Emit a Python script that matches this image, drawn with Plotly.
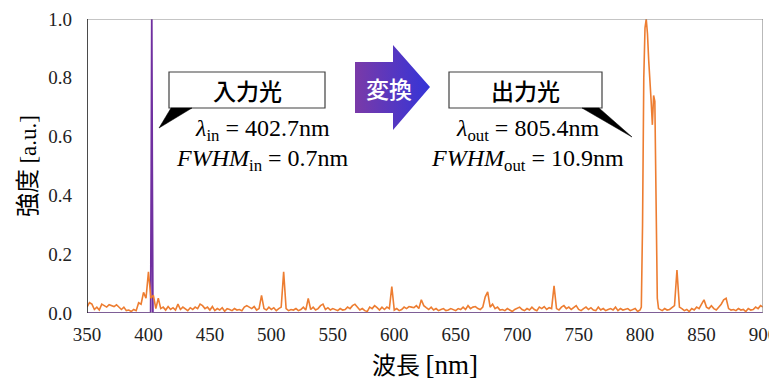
import plotly.graph_objects as go

# ---------------- data ----------------
x_ticks = [350, 400, 450, 500, 550, 600, 650, 700, 750, 800, 850, 900]
y_ticks = [0.0, 0.2, 0.4, 0.6, 0.8, 1.0]

# input light (purple): narrow line at 402.7 nm
in_wl = [350, 401.8, 402.3, 402.7, 403.1, 403.6, 900]
in_val = [0.0, 0.0, 0.5, 1.0, 0.5, 0.0, 0.0]

# output light (orange): noise floor 350-800 nm, 2 nm steps
out_wl_a = list(range(350, 801, 2))
out_val_a = [
    0.020, 0.035, 0.030, 0.012, 0.020, 0.010, 0.030, 0.025, 0.020, 0.028,
    0.025, 0.022, 0.028, 0.020, 0.012, 0.020, 0.008, 0.010, 0.005, 0.012,
    0.008, 0.035, 0.030, 0.070, 0.050, 0.140, 0.050, 0.060, 0.015, 0.050,
    0.015, 0.020, 0.010, 0.022, 0.012, 0.018, 0.010, 0.030, 0.012, 0.020,
    0.015, 0.008, 0.018, 0.012, 0.020, 0.015, 0.030, 0.025, 0.015, 0.020,
    0.010, 0.022, 0.008, 0.015, 0.010, 0.018, 0.006, 0.015, 0.012, 0.008,
    0.015, 0.010, 0.012, 0.008, 0.020, 0.025, 0.020, 0.015, 0.022, 0.010,
    0.015, 0.060, 0.015, 0.010, 0.020, 0.012, 0.018, 0.008, 0.015, 0.020,
    0.140, 0.015, 0.008, 0.012, 0.010, 0.015, 0.008, 0.012, 0.020, 0.010,
    0.050, 0.012, 0.020, 0.010, 0.015, 0.025, 0.030, 0.012, 0.018, 0.010,
    0.015, 0.012, 0.008, 0.015, 0.010, 0.012, 0.020, 0.015, 0.025, 0.030,
    0.020, 0.010, 0.015, 0.008, 0.005, 0.020, 0.015, 0.025, 0.018, 0.010,
    0.020, 0.012, 0.020, 0.015, 0.090, 0.010, 0.015, 0.008, 0.012, 0.020,
    0.015, 0.022, 0.020, 0.018, 0.025, 0.015, 0.045, 0.025, 0.018, 0.012,
    0.020, 0.010, 0.015, 0.008, 0.012, 0.015, 0.008, 0.010, 0.015, 0.012,
    0.008, 0.015, 0.012, 0.020, 0.012, 0.025, 0.015, 0.020, 0.022, 0.015,
    0.012, 0.020, 0.055, 0.072, 0.020, 0.030, 0.015, 0.020, 0.010, 0.012,
    0.008, 0.015, 0.010, 0.005, 0.012, 0.015, 0.020, 0.012, 0.008, 0.015,
    0.010, 0.020, 0.012, 0.008, 0.020, 0.015, 0.022, 0.012, 0.018, 0.015,
    0.092, 0.015, 0.010, 0.020, 0.025, 0.015, 0.020, 0.012, 0.018, 0.025,
    0.012, 0.008, 0.015, 0.020, 0.012, 0.018, 0.010, 0.008, 0.020, 0.010,
    0.015, 0.008, 0.012, 0.015, 0.010, 0.020, 0.008, 0.015, 0.010, 0.012,
    0.015, 0.008, 0.012, 0.015, 0.005, 0.010,
]
# main output peak around 805.4 nm
out_wl_peak = [801, 802, 803, 804, 805, 806, 807, 808, 809, 810, 810.5, 811, 812, 813, 814, 815, 816]
out_val_peak = [0.02, 0.30, 0.80, 0.97, 1.00, 0.95, 0.86, 0.80, 0.72, 0.64, 0.70, 0.74, 0.72, 0.40, 0.05, 0.015, 0.012]
# noise floor 818-900 nm
out_wl_b = list(range(818, 901, 2))
out_val_b = [
    0.008, 0.015, 0.010, 0.012, 0.020, 0.025, 0.146, 0.020, 0.015, 0.008,
    0.012, 0.005, 0.015, 0.010, 0.020, 0.015, 0.030, 0.045, 0.020, 0.015,
    0.025, 0.015, 0.010, 0.020, 0.030, 0.045, 0.050, 0.015, 0.010, 0.012,
    0.008, 0.015, 0.010, 0.012, 0.005, 0.015, 0.010, 0.012, 0.020, 0.015,
    0.025, 0.020,
]
out_wl = out_wl_a + out_wl_peak + out_wl_b
out_val = out_val_a + out_val_peak + out_val_b

SERIF = "Liberation Serif"
CJK = "Noto Sans CJK JP"

fig = go.Figure()
fig.add_trace(go.Scatter(x=in_wl, y=in_val, mode="lines",
                         line=dict(color="#7030A0", width=1.8), hoverinfo="skip"))
fig.add_trace(go.Scatter(x=out_wl, y=out_val, mode="lines",
                         line=dict(color="#ED7D31", width=1.6), hoverinfo="skip"))

# gradient arrow "変換" on a pixel-based overlay axis pair
arrow_x = [355, 393, 393, 430, 393, 393, 355, 355]
arrow_y = [62, 62, 45, 87, 130, 113, 113, 62]
fig.add_trace(go.Scatter(
    x=arrow_x, y=arrow_y, xaxis="x2", yaxis="y2", mode="lines",
    line=dict(width=0), fill="toself",
    fillgradient=dict(type="horizontal",
                      colorscale=[[0, "#7A3AA8"], [1, "#3434D8"]]),
    hoverinfo="skip"))

shapes = [
    dict(type="rect", xref="x2", yref="y2", x0=87, x1=763, y0=19, y1=313,
         line=dict(color="#8C8C8C", width=1.2), layer="above"),
    dict(type="line", xref="x2", yref="y2", x0=87, x1=87, y0=19, y1=313,
         line=dict(color="#000000", width=1.2)),
    dict(type="rect", xref="x2", yref="y2", x0=169, x1=325, y0=72, y1=108,
         line=dict(color="#404040", width=1.2), fillcolor="white"),
    dict(type="path", xref="x2", yref="y2",
         path="M 171,108 L 159,128 L 192,108 Z",
         fillcolor="black", line=dict(color="black", width=0.5)),
    dict(type="rect", xref="x2", yref="y2", x0=449, x1=602, y0=72, y1=108,
         line=dict(color="#404040", width=1.2), fillcolor="white"),
    dict(type="path", xref="x2", yref="y2",
         path="M 582,108 L 632,137 L 599,108 Z",
         fillcolor="black", line=dict(color="black", width=0.5)),
]

ann = [
    dict(x=247, y=90, text="入力光", font=dict(family=CJK, size=23, color="black", weight=500)),
    dict(x=525, y=90, text="出力光", font=dict(family=CJK, size=23, color="black", weight=500)),
    dict(x=389, y=88, text="変換", font=dict(family=CJK, size=23, color="white", weight=500)),
    dict(x=262, y=130, text="<i>λ</i><sub>in</sub> = 402.7nm", font=dict(family=SERIF, size=24, color="black")),
    dict(x=262, y=160, text="<i>FWHM</i><sub>in</sub> = 0.7nm", font=dict(family=SERIF, size=24, color="black")),
    dict(x=527, y=130, text="<i>λ</i><sub>out</sub> = 805.4nm", font=dict(family=SERIF, size=24, color="black")),
    dict(x=527, y=160, text="<i>FWHM</i><sub>out</sub> = 10.9nm", font=dict(family=SERIF, size=24, color="black")),
]
for a in ann:
    a.update(xref="x2", yref="y2", showarrow=False, xanchor="center", yanchor="middle")

# the page body adds an 8 px margin, so the figure is shrunk and margins compensate
fig.update_layout(
    width=769, height=373,
    margin=dict(l=79, r=14, t=11, b=68, autoexpand=False),
    paper_bgcolor="white", plot_bgcolor="white",
    showlegend=False, hovermode=False,
    shapes=shapes, annotations=ann,
    xaxis=dict(range=[350, 900], tickvals=x_ticks, ticks="", showgrid=False,
               zeroline=False, showline=False, automargin=False,
               ticklabelstandoff=8, ticklabeloverflow="allow",
               tickfont=dict(family=SERIF, size=19, color="#222"),
               title=dict(text="波長 <span style='font-family:Liberation Serif;font-size:27px'>[nm]</span>",
                          font=dict(family=CJK, size=24, color="black"), standoff=13)),
    yaxis=dict(range=[0, 1.0], tickvals=y_ticks, tickformat=".1f", ticks="",
               showgrid=False, zeroline=False, showline=False, automargin=False,
               ticklabelstandoff=14, ticklabeloverflow="allow",
               tickfont=dict(family=SERIF, size=19, color="#222"),
               title=dict(text="強度 <span style='font-family:Liberation Serif;font-size:23px'>[a.u.]</span>",
                          font=dict(family=CJK, size=24, color="black"), standoff=13)),
    xaxis2=dict(overlaying="x", range=[87, 763], visible=False, fixedrange=True),
    yaxis2=dict(overlaying="y", range=[313, 19], visible=False, fixedrange=True),
)

fig.write_html("out.html")
